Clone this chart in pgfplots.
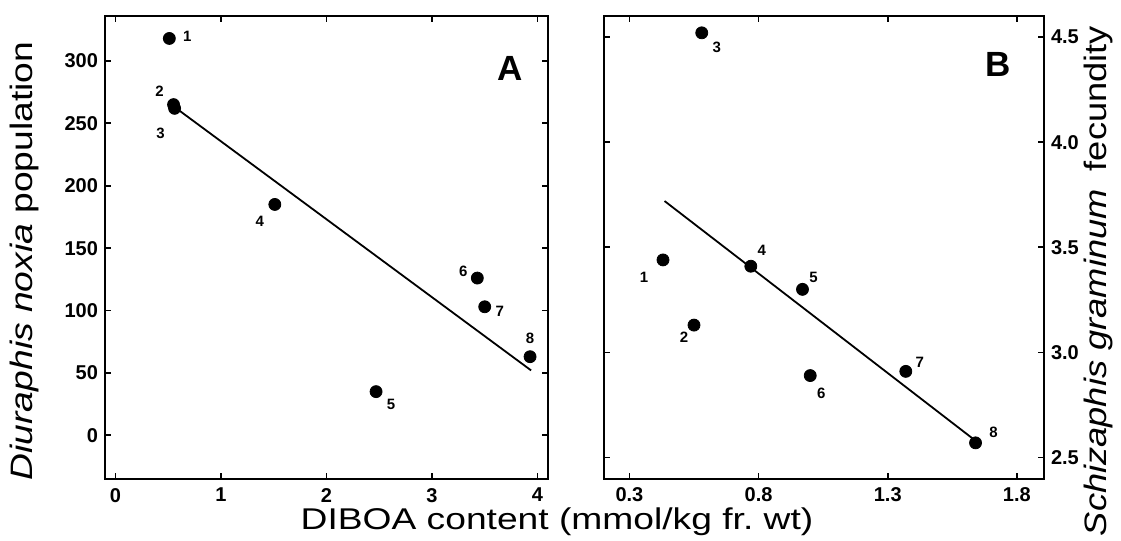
\documentclass[border=0pt]{standalone}
\usepackage{fontspec}
\setmainfont{Liberation Sans}
\usepackage{graphicx}
\usepackage{pgfplots}
\pgfplotsset{compat=1.18}
\begin{document}
\begin{tikzpicture}
\useasboundingbox (0,0) rectangle (560.5pt,270.5pt);
\pgfplotsset{
  panel/.style={
    scale only axis,
    anchor=south west,
    axis line style={line width=1pt},
    tick style={line width=0.9pt, black},
    major tick length=3pt,
    tick align=inside,
    ticklabel style={font=\fontsize{10}{11}\selectfont\bfseries},
    xticklabel style={yshift=-1pt},
    /pgf/number format/assume math mode=true,
    scaled ticks=false,
  },
  pts/.style={only marks, mark=*, mark size=3pt, black},
  fit/.style={black, line width=0.9pt, no marks},
}
\newcommand{\lab}[4]{\node[font=\fontsize{7.5}{8}\selectfont\bfseries, inner sep=0pt] at ([xshift=#2pt,yshift=#3pt]axis cs:#1) {#4};}
% Panel A
\begin{axis}[panel,
  at={(52.5pt,31pt)}, width=221.5pt, height=231.5pt,
  xmin=-0.1, xmax=4.1, ymin=-35, ymax=336,
  xtick={0,1,2,3,4}, ytick={0,50,100,150,200,250,300},
  xtick pos=both, ytick pos=both, yticklabel pos=left, xticklabel pos=bottom,
]
\addplot[pts] coordinates {(0.51,318) (0.55,265) (0.56,262) (1.51,185) (2.47,35) (3.43,126) (3.50,103) (3.93,63)};
\addplot[fit] coordinates {(0.56,263) (3.94,52)};
\lab{0.51,318}{9}{1}{1}
\lab{0.55,265}{-7}{6.5}{2}
\lab{0.56,262}{-7}{-12.5}{3}
\lab{1.51,185}{-7.5}{-8.5}{4}
\lab{2.47,35}{7.5}{-6.5}{5}
\lab{3.43,126}{-7}{3.5}{6}
\lab{3.50,103}{7.5}{-2.5}{7}
\lab{3.93,63}{0}{9}{8}
\node[font=\fontsize{17.5}{18}\selectfont\bfseries] at (axis cs:3.74,294) {A};
\end{axis}
% Panel B
\begin{axis}[panel,
  at={(301.8pt,31.2pt)}, width=220.2pt, height=231.3pt,
  xmin=0.2, xmax=1.905, ymin=2.4, ymax=4.6,
  xtick={0.3,0.8,1.3,1.8}, ytick={2.5,3.0,3.5,4.0,4.5},
  xtick pos=both, ytick pos=both, yticklabel pos=right, xticklabel pos=bottom,
  yticklabel style={/pgf/number format/.cd, fixed, fixed zerofill, precision=1},
  xticklabel style={/pgf/number format/.cd, fixed, fixed zerofill, precision=1},
]
\addplot[pts] coordinates {(0.43,3.44) (0.55,3.13) (0.58,4.52) (0.77,3.41) (0.97,3.30) (1.00,2.89) (1.37,2.91) (1.64,2.57)};
\addplot[fit] coordinates {(0.436,3.72) (1.64,2.58)};
\lab{0.43,3.44}{-9.5}{-8.5}{1}
\lab{0.55,3.13}{-5}{-6}{2}
\lab{0.58,4.52}{7.5}{-7.5}{3}
\lab{0.77,3.41}{5.5}{8}{4}
\lab{0.97,3.30}{5.5}{6}{5}
\lab{1.00,2.89}{5.5}{-9}{6}
\lab{1.37,2.91}{7}{4.5}{7}
\lab{1.64,2.57}{9}{5.5}{8}
\node[font=\fontsize{17.5}{18}\selectfont\bfseries] at (axis cs:1.726,4.37) {B};
\end{axis}
% Axis labels
\node[font=\fontsize{15}{17}\selectfont, anchor=base] at (278.5pt,5.5pt) {\scalebox{1.24}[1]{DIBOA content (mmol/kg fr.\ wt)}};
\node[font=\fontsize{15.5}{17}\selectfont, rotate=90] at (12pt,140pt) {\scalebox{1.2}[1]{\itshape Diuraphis noxia\upshape\ population}};
\node[font=\fontsize{15.5}{17}\selectfont, rotate=90] at (549pt,130pt) {\scalebox{1.17}[1]{\itshape Schizaphis graminum\upshape\hspace{0.5em}fecundity}};
\end{tikzpicture}
\end{document}
